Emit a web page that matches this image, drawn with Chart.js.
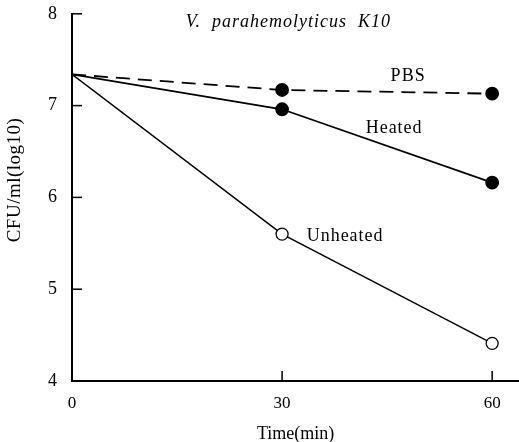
<!DOCTYPE html>
<html>
<head>
<meta charset="utf-8">
<script src="https://cdn.jsdelivr.net/npm/chart.js@4/dist/chart.umd.min.js"></script>
<style>
  html, body { margin: 0; background: #fff; overflow: hidden; }
  /* the canvas is a little bigger than the window so the plot area
     reaches the top and right edges like the original scan */
  #wrap { width: 527px; height: 453px; margin-top: -4px; }
</style>
</head>
<body>
<div id="wrap"><canvas id="myChart"></canvas></div>
<script>
// data
const times = [0, 30, 60];
const pbs = [7.34, 7.17, 7.13];
const heated = [7.34, 6.96, 6.16];
const unheated = [7.34, 5.60, 4.41];
const xTicks = [0, 30, 60];
const yTicks = [4, 5, 6, 7, 8];
const yTitle = 'CFU/ml(log10)';

// text labels placed in data coordinates
const notes = [
    { text: 'V.  parahemolyticus  K10', x: 30.9, y: 7.91, italic: true },
    { text: 'PBS', x: 48, y: 7.32 },
    { text: 'Heated', x: 46, y: 6.75 },
    { text: 'Unheated', x: 39, y: 5.58 }
];

const FONT = '"Liberation Serif", "DejaVu Serif", serif';

function toPoints(values) {
    return values.map((v, i) => ({ x: times[i], y: v }));
}

// small ticks pointing into the plot, like the original
const innerTicks = {
    id: 'innerTicks',
    afterDraw(chart) {
        const c = chart.ctx;
        const xs = chart.scales.x, ys = chart.scales.y;
        c.save();
        c.strokeStyle = '#000';
        c.lineWidth = 1.5;
        yTicks.slice(1).forEach(v => {
            const py = ys.getPixelForValue(v);
            c.beginPath();
            c.moveTo(xs.left, py);
            c.lineTo(xs.left + 10, py);
            c.stroke();
        });
        xTicks.slice(1).forEach(v => {
            const px = xs.getPixelForValue(v);
            c.beginPath();
            c.moveTo(px, ys.bottom);
            c.lineTo(px, ys.bottom - 10);
            c.stroke();
        });
        c.restore();
    }
};

const textNotes = {
    id: 'textNotes',
    afterDatasetsDraw(chart) {
        const c = chart.ctx;
        const xs = chart.scales.x, ys = chart.scales.y;
        c.save();
        c.fillStyle = '#000';
        c.textAlign = 'center';
        c.textBaseline = 'middle';
        c.letterSpacing = '1px';
        notes.forEach(n => {
            c.font = (n.italic ? 'italic ' : '') + '18px ' + FONT;
            c.fillText(n.text, xs.getPixelForValue(n.x), ys.getPixelForValue(n.y));
        });
        // y axis title sits a bit above the middle of the axis in the original
        c.letterSpacing = '0.5px';
        c.font = '19px ' + FONT;
        c.translate(15, ys.getPixelForValue(6.19));
        c.rotate(-Math.PI / 2);
        c.fillText(yTitle, 0, 0);
        c.restore();
    }
};

const ctx = document.getElementById('myChart');

new Chart(ctx, {
    type: 'line',
    data: {
        datasets: [
            {
                label: 'PBS',
                data: toPoints(pbs),
                borderColor: '#000',
                borderWidth: 1.8,
                borderDash: [14, 8],
                pointRadius: [0, 6, 6],
                pointBackgroundColor: '#000',
                pointBorderColor: '#000'
            },
            {
                label: 'Heated',
                data: toPoints(heated),
                borderColor: '#000',
                borderWidth: 1.8,
                pointRadius: [0, 6, 6],
                pointBackgroundColor: '#000',
                pointBorderColor: '#000'
            },
            {
                label: 'Unheated',
                data: toPoints(unheated),
                borderColor: '#000',
                borderWidth: 1.5,
                pointRadius: [0, 6, 6],
                pointBackgroundColor: '#fff',
                pointBorderColor: '#000',
                pointBorderWidth: 1.3
            }
        ]
    },
    options: {
        responsive: true,
        maintainAspectRatio: false,
        animation: false,
        layout: { padding: 0 },
        plugins: {
            legend: { display: false },
            tooltip: { enabled: false }
        },
        scales: {
            x: {
                type: 'linear',
                min: 0,
                max: 63.86,
                afterBuildTicks: scale => { scale.ticks = xTicks.map(v => ({ value: v })); },
                afterFit: scale => { scale.height = 68; },
                grid: { display: false },
                border: { display: true, color: '#000', width: 2 },
                ticks: {
                    color: '#000',
                    padding: 4,
                    font: { family: FONT, size: 17 }
                },
                title: {
                    display: true,
                    text: 'Time(min)',
                    color: '#000',
                    padding: { top: 4 },
                    font: { family: FONT, size: 18 }
                }
            },
            y: {
                min: 4,
                max: 8,
                afterBuildTicks: scale => { scale.ticks = yTicks.map(v => ({ value: v })); },
                afterFit: scale => { scale.width = 72; },
                grid: { display: false },
                border: { display: true, color: '#000', width: 2 },
                ticks: {
                    color: '#000',
                    padding: 7,
                    font: { family: FONT, size: 18 }
                },
                title: { display: false }
            }
        }
    },
    plugins: [innerTicks, textNotes]
});
</script>
</body>
</html>
